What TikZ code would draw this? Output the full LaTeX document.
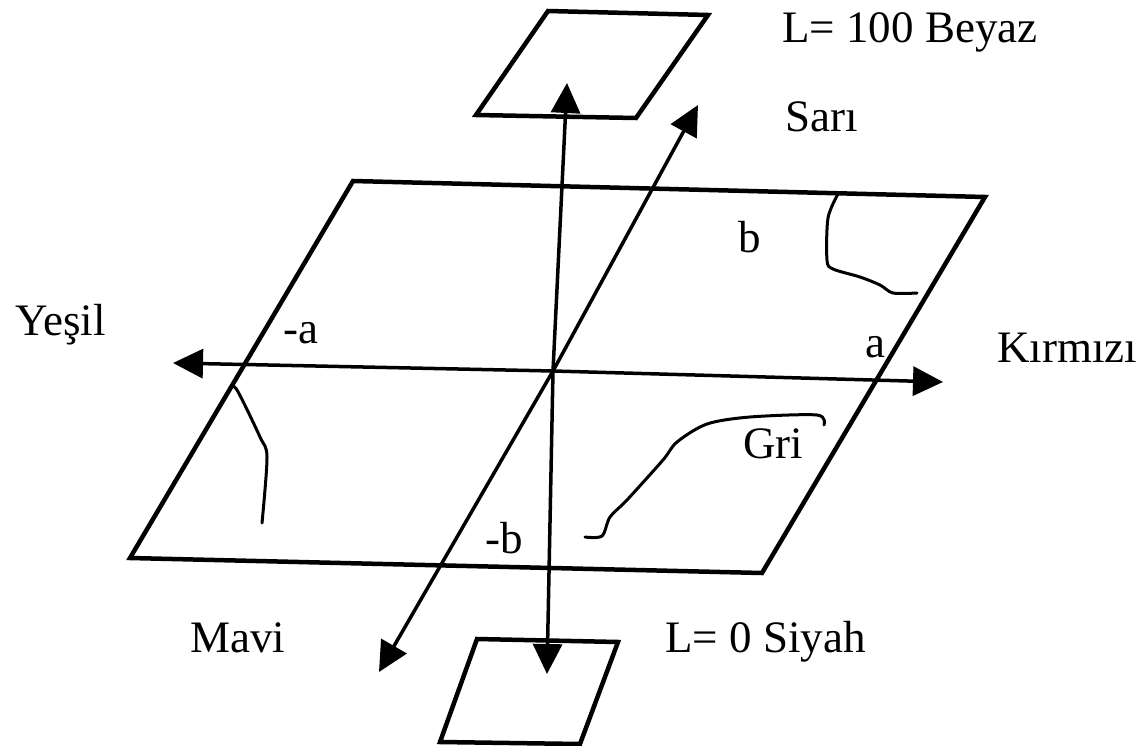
\documentclass[tikz,border=0pt]{standalone}
\usepackage{fontspec}
\setmainfont{Liberation Serif}
\usetikzlibrary{arrows.meta}
\tikzset{
  plane/.style={line width=4.5pt, line join=miter},
  axis/.style={line width=3.5pt, -{Triangle[length=30pt,width=29pt]}},
  hand/.style={line width=3pt, line cap=round, line join=round},
  lbl/.style={font=\fontsize{45}{50}\selectfont, inner sep=0pt, anchor=base west}
}
\begin{document}
\begin{tikzpicture}[x=1pt,y=-1pt]
\useasboundingbox (0,0) rectangle (1144,746);
% main plane
\coordinate (tl) at (353,181);
\coordinate (tr) at (985,197);
\coordinate (br) at (762,573);
\coordinate (bl) at (130,558);
\draw[plane] (tl) -- (tr) -- (br) -- (bl) -- cycle;
% top square
\coordinate (ttl) at (548,11);
\coordinate (ttr) at (708,15);
\coordinate (tbr) at (636,118);
\coordinate (tbl) at (476,115);
\draw[plane] (ttl) -- (ttr) -- (tbr) -- (tbl) -- cycle;
% bottom square
\coordinate (btl) at (477,639);
\coordinate (btr) at (618,642);
\coordinate (bbr) at (580,744);
\coordinate (bbl) at (440,742);
\draw[plane] (btl) -- (btr) -- (bbr) -- (bbl) -- cycle;
% axes
\coordinate (c) at (553,371);
\coordinate (left) at (173,363);
\coordinate (right) at (943,382);
\coordinate (up) at (567,83);
\coordinate (down) at (547,674);
\coordinate (ne) at (698,105);
\coordinate (sw) at (379,672);
\draw[axis] (c) -- (left);
\draw[axis] (c) -- (right);
\draw[axis] (c) -- (up);
\draw[axis] (c) -- (down);
\draw[axis] (c) -- (ne);
\draw[axis] (c) -- (sw);
% hand-drawn curves
\draw[hand] plot[smooth, tension=0.5] coordinates {(838,194) (828,218) (827,260) (833,269) (860,277) (880,285) (893,293) (917,293)};
\draw[hand] plot[smooth, tension=0.5] coordinates {(230,388) (237,390) (260,437) (267,457) (262,523)};
\draw[hand] plot[smooth, tension=0.5] coordinates {(585,537) (602,536) (610,517) (627,500) (663,460) (677,442) (707,424) (750,417) (817,415) (824,425)};
% labels
\node[lbl] (beyaz) at (782,43) {L= 100 Beyaz};
\node[lbl] (sari) at (785,132) {Sarı};
\node[lbl] (b) at (738,253) {b};
\node[lbl] (yesil) at (15,335) {Yeşil};
\node[lbl] (ma) at (283,343) {-a};
\node[lbl] (a) at (865,357) {a};
\node[lbl] (kirmizi) at (997,362) {Kırmızı};
\node[lbl] (gri) at (743,458) {Gri};
\node[lbl] (mb) at (485,553) {-b};
\node[lbl] (mavi) at (190,652) {Mavi};
\node[lbl] (siyah) at (665,652) {L= 0 Siyah};
\end{tikzpicture}
\end{document}
